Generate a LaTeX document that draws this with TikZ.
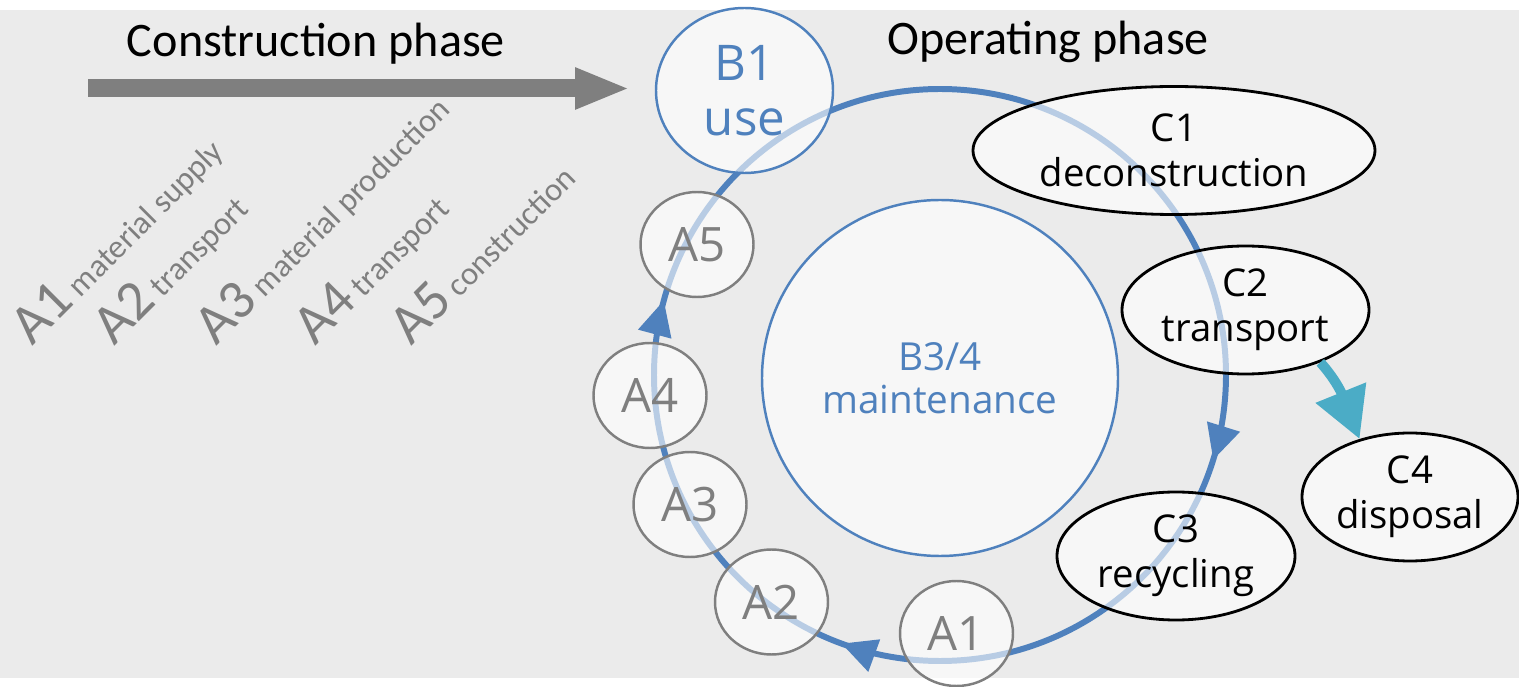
\documentclass[tikz,border=0pt]{standalone}
\usepackage{fontspec}
\setmainfont{Open Sans}
\newfontfamily\calibri{Carlito}
\usetikzlibrary{arrows.meta,decorations.markings,shapes.geometric}
\definecolor{cycblue}{HTML}{4F81BD}
\definecolor{agray}{HTML}{7F7F7F}
\definecolor{bggray}{HTML}{EBEBEB}
\definecolor{disteal}{HTML}{4BACC6}

\begin{document}
\begin{tikzpicture}[x=0.1mm,y=0.1mm,
 phase/.style={font=\calibri\fontsize{13.7}{16}\selectfont,anchor=base,inner sep=0},
 modlabel/.style={font=\calibri\fontsize{9.3}{10}\selectfont,text=agray,rotate=45,anchor=base west,inner sep=0},
 bubble/.style={ellipse,fill=white,fill opacity=.6,text opacity=1,inner sep=0,align=center},
 anode/.style={bubble,draw=agray,line width=.7pt,text=agray,minimum width=11.3mm,minimum height=10.5mm,font=\fontsize{13.5}{15}\selectfont},
 bnode/.style={bubble,draw=cycblue,line width=.7pt,text=cycblue},
 cnode/.style={bubble,draw=black,line width=.8pt,minimum height=12.8mm,font=\fontsize{10.9}{12.8}\selectfont},
 loopline/.style={draw=cycblue,line width=1.7pt},
 looptip/.style={postaction={decorate},decoration={markings,
   mark=at position .298 with {\arrow{Triangle[length=3.5mm,width=3.3mm]}},
   mark=at position .556 with {\arrow{Triangle[length=3.5mm,width=3.3mm]}},
   mark=at position .792 with {\arrow{Triangle[length=3.5mm,width=3.3mm]}}}}]
\useasboundingbox (0,0) rectangle (1519,686);
\fill[bggray] (0,8) rectangle (1519,676);

% construction phase
\node[phase] (cons) at (316,629) {Construction phase};
\coordinate (arrS) at (88,597.5);
\coordinate (arrE) at (630,597.5);
\draw[agray,line width=1.8mm,-{Triangle[length=5.5mm,width=3.8mm]}] (arrS) -- (arrE);
\node[modlabel] (l1) at (32,339) {{\fontsize{16}{16}\selectfont A1} material supply};
\node[modlabel] (l2) at (114,339) {{\fontsize{16}{16}\selectfont A2} transport};
\node[modlabel] (l3) at (216,339) {{\fontsize{16}{16}\selectfont A3} material production};
\node[modlabel] (l4) at (315,339) {{\fontsize{16}{16}\selectfont A4} transport};
\node[modlabel] (l5) at (411,339) {{\fontsize{16}{16}\selectfont A5} construction};

% operating phase
\node[phase] (oper) at (1048,631) {Operating phase};
\coordinate (cen) at (940,311);
\node[bnode,minimum size=35.6mm,font=\fontsize{11}{12.2}\selectfont] (b34) at (940,308) {B3/4\\maintenance};
\draw[loopline,looptip] (cen) ++(90:28.6mm) arc[start angle=90,end angle=-270,radius=28.6mm];

% life cycle stages
\node[bnode,minimum width=17.7mm,minimum height=16.5mm,font=\fontsize{14}{15.8}\selectfont] (b1) at (744.5,595.5) {B1\\use};
\node[anode] (a5) at (697,441.5) {A5};
\node[anode] (a4) at (650,290.5) {A4};
\node[anode] (a3) at (690,181.5) {A3};
\node[anode] (a2) at (771.5,84) {A2};
\node[anode] (a1) at (956.5,52.5) {A1};
\node[cnode,minimum width=40.2mm] (c1) at (1174,535.5) {C1\\deconstruction};
\node[cnode,minimum width=24.7mm] (c2) at (1245.5,376) {C2\\transport};
\node[cnode,minimum width=23.8mm] (c3) at (1176,130) {C3\\recycling};
\node[cnode,minimum width=21.6mm] (c4) at (1410,189) {C4\\disposal};
\draw[disteal,line width=1mm,-{Triangle[length=5mm,width=5.2mm]}] (c2.-35) to[out=-48,in=112] (c4.131);
\end{tikzpicture}
\end{document}
